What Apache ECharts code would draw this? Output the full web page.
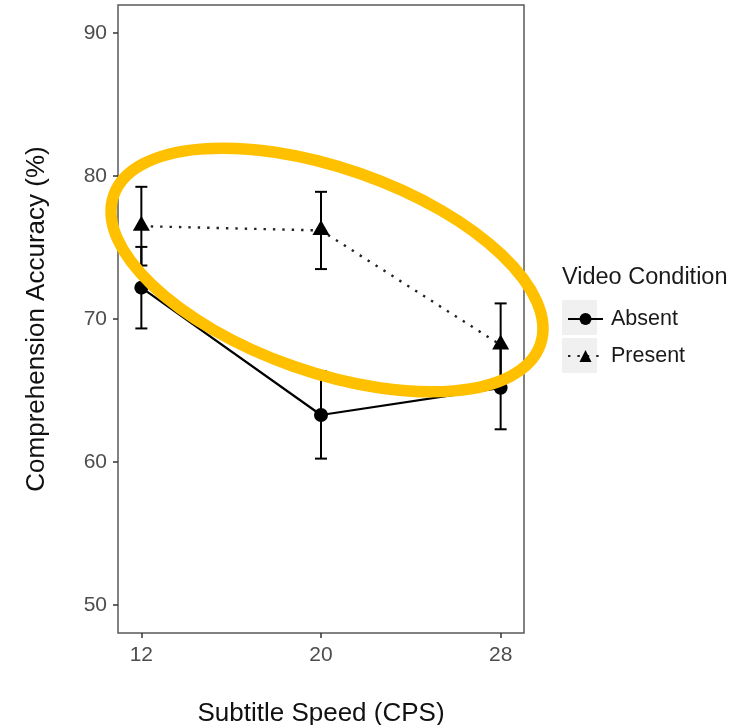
<!DOCTYPE html>
<html><head><meta charset="utf-8">
<script src="https://cdn.jsdelivr.net/npm/echarts@6/dist/echarts.min.js"></script>
<style>html,body{margin:0;padding:0;background:#fff}#chart{width:732px;height:725px}</style>
</head><body><div id="chart"></div>
<script>
const speeds = [12, 20, 28];
const absentMean = [72.2, 63.3, 65.2];
const absentErr = [2.85, 3.05, 2.9];
const presentMean = [76.5, 76.2, 68.2];
const presentErr = [2.75, 2.7, 2.9];
const yTicks = [50, 60, 70, 80, 90];
const xTicks = [12, 20, 28];
const seriesNames = ['Absent', 'Present'];
const legendTitle = 'Video Condition';
const xTitle = 'Subtitle Speed (CPS)';
const yTitle = 'Comprehension Accuracy (%)';

const FONT = 'Liberation Sans';
const pts = (means) => speeds.map((s, i) => [s, means[i]]);
const errs = (means, e) => speeds.map((s, i) => [s, means[i] - e[i], means[i] + e[i]]);

function errRender(params, api) {
  const x = api.value(0), lo = api.value(1), hi = api.value(2);
  const a = api.coord([x, lo]), b = api.coord([x, hi]);
  const hw = 6;
  const st = { stroke: '#000', lineWidth: 2, fill: null };
  return { type: 'group', children: [
    { type: 'line', shape: { x1: a[0], y1: a[1], x2: b[0], y2: b[1] }, style: st },
    { type: 'line', shape: { x1: a[0] - hw, y1: a[1], x2: a[0] + hw, y2: a[1] }, style: st },
    { type: 'line', shape: { x1: b[0] - hw, y1: b[1], x2: b[0] + hw, y2: b[1] }, style: st }
  ]};
}

const chart = echarts.init(document.getElementById('chart'), null, { renderer: 'canvas' });
chart.setOption({
  animation: false,
  backgroundColor: '#fff',
  grid: { left: 118, right: 208, top: 5, bottom: 92, outerBoundsMode: 'none', containLabel: false,
    show: true, borderColor: '#5a5a5a', borderWidth: 1.5, backgroundColor: '#fff' },
  xAxis: {
    type: 'value', min: 10.96, max: 29.04,
    splitLine: { show: false },
    axisLine: { show: false },
    axisTick: { show: true, customValues: xTicks, length: 5, lineStyle: { color: '#333', width: 1.5 } },
    axisLabel: { customValues: xTicks, margin: 12, color: '#4d4d4d', fontSize: 21, fontFamily: FONT },
    name: xTitle, nameLocation: 'middle', nameGap: 68,
    nameTextStyle: { fontSize: 26, color: '#111', fontFamily: FONT }
  },
  yAxis: {
    type: 'value', min: 48.06, max: 91.96,
    splitLine: { show: false },
    axisLine: { show: false },
    axisTick: { show: true, customValues: yTicks, length: 5, lineStyle: { color: '#333', width: 1.5 } },
    axisLabel: { customValues: yTicks, margin: 11, color: '#4d4d4d', fontSize: 21, fontFamily: FONT },
    name: yTitle, nameLocation: 'middle', nameGap: 68, nameRotate: 90,
    nameTextStyle: { fontSize: 26, color: '#111', fontFamily: FONT }
  },
  legend: {
    orient: 'vertical', left: 562, top: 303, itemWidth: 35, itemHeight: 15, itemGap: 15,
    data: seriesNames, z: 10,
    textStyle: { fontSize: 21.5, color: '#1a1a1a', fontFamily: FONT, padding: [0, 0, 0, 3] }
  },
  graphic: [
    { type: 'rect', shape: { x: 562, y: 300, width: 35, height: 35 }, style: { fill: '#f0f0f0' }, z: 0 },
    { type: 'rect', shape: { x: 562, y: 338, width: 35, height: 35 }, style: { fill: '#f0f0f0' }, z: 0 },
    { type: 'text', x: 562, y: 266, style: { text: legendTitle, fontSize: 23.5, fill: '#1a1a1a', fontFamily: FONT }, z: 10 },
    { type: 'ellipse', x: 327, y: 270, rotation: -19.3 * Math.PI / 180,
      shape: { cx: 0, cy: 0, rx: 226, ry: 102 },
      style: { fill: null, stroke: '#FFC000', lineWidth: 11.5 }, z: 100 }
  ],
  series: [
    { name: 'Absent SE', type: 'custom', renderItem: errRender, data: errs(absentMean, absentErr), z: 2, silent: true },
    { name: 'Present SE', type: 'custom', renderItem: errRender, data: errs(presentMean, presentErr), z: 2, silent: true },
    { name: 'Absent', type: 'line', data: pts(absentMean), symbol: 'circle', symbolSize: 14,
      itemStyle: { color: '#000' }, lineStyle: { color: '#000', width: 2.2 }, z: 3 },
    { name: 'Present', type: 'line', data: pts(presentMean), symbol: 'triangle', symbolSize: [17, 15], symbolOffset: [0, -3],
      itemStyle: { color: '#000' }, lineStyle: { color: '#222', width: 2.4, type: [2.4, 7] }, z: 3 }
  ]
});
</script></body></html>
